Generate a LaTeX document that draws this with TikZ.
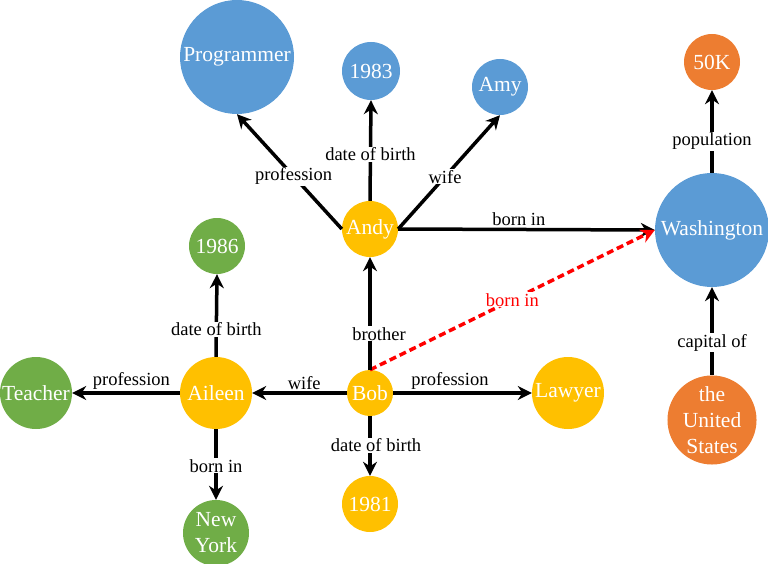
\documentclass[tikz,border=0pt]{standalone}
\usepackage{fontspec}
\setmainfont{Liberation Serif}
\usetikzlibrary{arrows.meta}
\definecolor{entblue}{HTML}{5B9BD5}
\definecolor{entorange}{HTML}{ED7D31}
\definecolor{entgreen}{HTML}{70AD47}
\definecolor{entgold}{HTML}{FFC000}

\begin{document}
\begin{tikzpicture}
[x=1pt,y=-1pt,
every edge/.append style={draw=black,line width=3.5pt,-{Stealth[length=14pt,width=14pt]}},
ent/.style={circle,inner sep=0pt,text=white,align=center,font=\fontsize{21.5}{26}\selectfont},
rel/.style={font=\fontsize{18.5}{20}\selectfont,inner sep=1pt,fill=white},
relup/.style={font=\fontsize{18.5}{20}\selectfont,inner sep=1pt,above=1pt},
]
\useasboundingbox (0,0) rectangle (768,564);
% entities: name / x / y / radius / colour / text
\foreach \nm/\x/\y/\r/\col/\txt in {
  Programmer/237/57/57/entblue/Programmer,
  Yandy/371/71/29/entblue/1983,
  Amy/500/87/28/entblue/Amy,
  Washington/712/230/57/entblue/Washington,
  Pop/712/62/28/entorange/50K,
  USA/712/420/44/entorange/{the\\United\\States},
  Andy/370/229/28/entgold/Andy,
  Bob/370/393/23/entgold/Bob,
  Aileen/216/393/36/entgold/Aileen,
  Lawyer/568/393/36/entgold/Lawyer,
  Ybob/370/504/28/entgold/1981,
  Yaileen/217/246/28/entgreen/1986,
  Teacher/36/393/36/entgreen/Teacher,
  NewYork/216/533/33/entgreen/{New\\York}}
{
{\node[ent,fill=\col,minimum size=2*\r] (\nm) at (\x,\y) {\txt};}
}

\draw (Andy.west) edge node [rel,pos=0.46] {profession} (Programmer.south);
\draw (Andy.north) edge node [rel,pos=0.46] {date of birth} (Yandy.south);
\draw (Andy.east) edge node [rel,pos=0.46] {wife} (Amy.south);
\draw (Andy.east) edge node [relup,pos=0.47] {born in} (Washington.west);
\draw (Bob.north) edge [draw=red,dash pattern=on 7pt off 4pt] node [rel,text=red,pos=0.5] {born in} (Washington.west);
\draw (Bob.north) edge node [rel,pos=0.32,xshift=9pt] {brother} (Andy.south);
\draw (Bob.west) edge node [relup,pos=0.45] {wife} (Aileen.east);
\draw (Bob.east) edge node [relup,pos=0.41] {profession} (Lawyer.west);
\draw (Bob.south) edge node [rel,pos=0.49,xshift=6pt] {date of birth} (Ybob.north);
\draw (Aileen.west) edge node [relup,pos=0.45] {profession} (Teacher.east);
\draw (Aileen.north) edge node [rel,pos=0.33] {date of birth} (Yaileen.south);
\draw (Aileen.south) edge node [rel,pos=0.52] {born in} (NewYork.north);
\draw (Washington.north) edge node [rel,pos=0.38] {population} (Pop.south);
\draw (USA.north) edge node [rel,pos=0.37] {capital of} (Washington.south);
\end{tikzpicture}
\end{document}
